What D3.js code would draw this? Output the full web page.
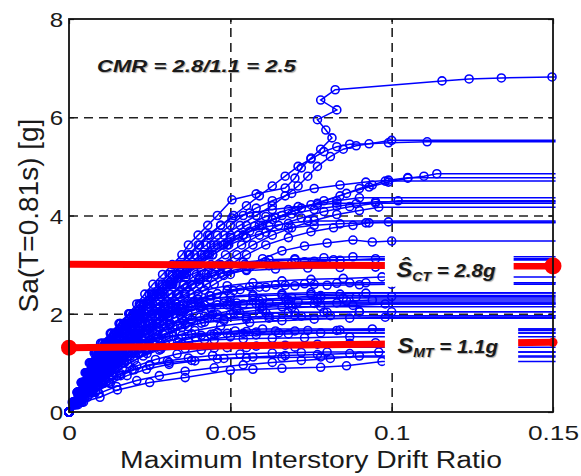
<!DOCTYPE html>
<html>
<head>
<meta charset="utf-8">
<script src="https://cdn.jsdelivr.net/npm/d3@7"></script>
<style>
  body { margin: 0; background: #fff; }
  svg { display: block; font-family: "Liberation Sans", Arial, sans-serif; }
  .note { text-shadow: 1px 1px 1px #aaa; }
</style>
</head>
<body>
<div id="ida-chart"></div>
<script>
// axis ticks
var xTicks = [0, 0.05, 0.1, 0.15];
var yTicks = [0, 2, 4, 6, 8];
var xTitle = "Maximum Interstory Drift Ratio";
var yTitle = "Sa(T=0.81s) [g]";
var cmrText = "CMR = 2.8/1.1 = 2.5";

// red reference lines (drift, Sa)
var sctLine = [[0, 3.01], [0.15, 2.97]];
var smtLine = [[0, 1.31], [0.15, 1.42]];

// IDA curves, [drift, Sa] per record; the last point is the collapse point
var idaCurves = [
  [[0,0],[0.001,0.2],[0.0025,0.4],[0.0038,0.6],[0.005,0.8],[0.0063,1.0],[0.0078,1.2],[0.0098,1.4],[0.0128,1.6],[0.0155,1.8],[0.0185,2.0],[0.021,2.2],[0.0235,2.4],[0.026,2.6],[0.029,2.8],[0.032,3.0],[0.035,3.2],[0.037,3.4],[0.04,3.6],[0.043,3.8],[0.046,4.0],[0.0505,4.32],[0.058,4.44],[0.067,4.56],[0.07,4.76],[0.072,4.97],[0.075,5.17],[0.078,5.35],[0.0815,5.58],[0.0796,5.74],[0.077,5.95],[0.083,6.15],[0.078,6.35],[0.0825,6.56],[0.1156,6.74],[0.124,6.78],[0.134,6.8],[0.1497,6.82]],
  [[0,0],[0.0014,0.2],[0.0028,0.4],[0.0042,0.6],[0.0057,0.8],[0.0072,1.0],[0.009,1.2],[0.0112,1.4],[0.014,1.6],[0.0168,1.8],[0.0198,2.0],[0.023,2.2],[0.026,2.4],[0.029,2.6],[0.032,2.8],[0.0345,3.0],[0.037,3.2],[0.04,3.4],[0.043,3.6],[0.047,3.8],[0.051,4.0],[0.055,4.2],[0.059,4.4],[0.063,4.6],[0.067,4.8],[0.071,5.0],[0.075,5.15],[0.079,5.3],[0.083,5.4],[0.087,5.45],[0.093,5.46],[0.099,5.48],[0.111,5.5]],
  [[0,0],[0.0016,0.2],[0.003,0.4],[0.0046,0.6],[0.0062,0.8],[0.008,1.0],[0.0102,1.2],[0.0128,1.4],[0.0155,1.6],[0.0185,1.8],[0.0215,2.0],[0.0245,2.2],[0.0275,2.4],[0.031,2.6],[0.034,2.8],[0.037,3.0],[0.041,3.2],[0.044,3.4],[0.048,3.6],[0.053,3.8],[0.058,4.0],[0.063,4.2],[0.067,4.4],[0.071,4.6],[0.074,4.8],[0.077,5.0],[0.081,5.2],[0.085,5.35],[0.089,5.42],[0.1,5.53]],
  [[0,0],[0.0015,0.2],[0.003,0.4],[0.0045,0.6],[0.006,0.8],[0.0078,1.0],[0.0098,1.2],[0.012,1.4],[0.0148,1.6],[0.0178,1.8],[0.021,2.0],[0.0245,2.2],[0.028,2.4],[0.0315,2.6],[0.035,2.8],[0.039,3.0],[0.043,3.2],[0.048,3.4],[0.054,3.6],[0.06,3.8],[0.066,4.0],[0.072,4.15],[0.079,4.3],[0.086,4.45],[0.093,4.58],[0.099,4.68],[0.105,4.76],[0.11,4.8],[0.114,4.85]],
  [[0,0],[0.0013,0.2],[0.0027,0.4],[0.004,0.6],[0.0054,0.8],[0.0068,1.0],[0.0085,1.2],[0.0105,1.4],[0.0132,1.6],[0.016,1.8],[0.019,2.0],[0.0222,2.2],[0.0255,2.4],[0.0288,2.6],[0.032,2.8],[0.0355,3.0],[0.039,3.2],[0.0425,3.4],[0.046,3.6],[0.05,3.8],[0.054,4.0],[0.058,4.15],[0.063,4.3],[0.069,4.45],[0.076,4.55],[0.084,4.62],[0.092,4.68],[0.099,4.72],[0.105,4.77]],
  [[0,0],[0.0017,0.2],[0.0033,0.4],[0.005,0.6],[0.0068,0.8],[0.0088,1.0],[0.011,1.2],[0.0135,1.4],[0.0163,1.6],[0.0193,1.8],[0.0225,2.0],[0.026,2.2],[0.0295,2.4],[0.033,2.6],[0.0365,2.8],[0.0405,3.0],[0.0445,3.2],[0.049,3.4],[0.054,3.6],[0.059,3.8],[0.064,3.95],[0.07,4.1],[0.077,4.25],[0.084,4.4],[0.09,4.55],[0.094,4.62],[0.098,4.7]],
  [[0,0],[0.0014,0.2],[0.0029,0.4],[0.0044,0.6],[0.006,0.8],[0.0076,1.0],[0.0095,1.2],[0.0118,1.4],[0.0145,1.6],[0.0175,1.8],[0.0205,2.0],[0.024,2.2],[0.0275,2.4],[0.031,2.6],[0.0345,2.8],[0.038,3.0],[0.042,3.2],[0.046,3.4],[0.05,3.6],[0.055,3.8],[0.061,3.98],[0.068,4.12],[0.075,4.22],[0.083,4.3],[0.09,4.36]],
  [[0,0],[0.0018,0.2],[0.0036,0.4],[0.0055,0.6],[0.0075,0.8],[0.0097,1.0],[0.012,1.2],[0.0146,1.4],[0.0175,1.6],[0.0207,1.8],[0.024,2.0],[0.0278,2.2],[0.0315,2.4],[0.0355,2.6],[0.0395,2.8],[0.044,3.0],[0.0485,3.2],[0.0535,3.4],[0.059,3.6],[0.065,3.8],[0.072,3.95],[0.079,4.08],[0.087,4.18],[0.095,4.25],[0.102,4.3]],
  [[0,0],[0.0012,0.2],[0.0025,0.4],[0.0038,0.6],[0.0052,0.8],[0.0066,1.0],[0.0082,1.2],[0.0102,1.4],[0.013,1.6],[0.0158,1.8],[0.0188,2.0],[0.0218,2.2],[0.0248,2.4],[0.028,2.6],[0.031,2.8],[0.0342,3.0],[0.0375,3.2],[0.0405,3.4],[0.0435,3.6],[0.047,3.8],[0.0505,3.95],[0.056,4.05],[0.063,4.12],[0.071,4.18],[0.077,4.22],[0.083,4.25]],
  [[0,0],[0.0019,0.2],[0.0039,0.4],[0.006,0.6],[0.0082,0.8],[0.0105,1.0],[0.013,1.2],[0.0158,1.4],[0.019,1.6],[0.0224,1.8],[0.026,2.0],[0.0298,2.2],[0.034,2.4],[0.0382,2.6],[0.0425,2.8],[0.047,3.0],[0.052,3.2],[0.057,3.4],[0.063,3.6],[0.069,3.75],[0.076,3.9],[0.083,4.02],[0.09,4.1],[0.096,4.17]],
  [[0,0],[0.0013,0.2],[0.0027,0.4],[0.0041,0.6],[0.0056,0.8],[0.0072,1.0],[0.009,1.2],[0.0112,1.4],[0.014,1.6],[0.017,1.8],[0.02,2.0],[0.0232,2.2],[0.0265,2.4],[0.03,2.6],[0.0335,2.8],[0.037,3.0],[0.041,3.2],[0.045,3.4],[0.05,3.55],[0.056,3.68],[0.062,3.78],[0.068,3.84],[0.074,3.89]],
  [[0,0],[0.002,0.2],[0.0041,0.4],[0.0063,0.6],[0.0086,0.8],[0.011,1.0],[0.0137,1.2],[0.0167,1.4],[0.02,1.6],[0.0236,1.8],[0.0275,2.0],[0.0316,2.2],[0.036,2.4],[0.0405,2.6],[0.0452,2.8],[0.05,3.0],[0.055,3.2],[0.061,3.4],[0.068,3.55],[0.075,3.67],[0.082,3.75],[0.088,3.8],[0.093,3.85]],
  [[0,0],[0.0022,0.2],[0.0045,0.4],[0.0069,0.6],[0.0094,0.8],[0.012,1.0],[0.015,1.2],[0.0183,1.4],[0.022,1.6],[0.026,1.8],[0.0305,2.0],[0.0352,2.2],[0.04,2.4],[0.045,2.6],[0.05,2.8],[0.055,2.97],[0.06,3.12],[0.066,3.28],[0.073,3.38],[0.08,3.44],[0.088,3.5],[0.094,3.46],[0.1,3.48]],
  [[0,0],[0.0016,0.2],[0.0032,0.4],[0.0049,0.6],[0.0067,0.8],[0.0086,1.0],[0.0107,1.2],[0.0131,1.4],[0.0158,1.6],[0.0187,1.8],[0.0218,2.0],[0.025,2.2],[0.0285,2.4],[0.0322,2.6],[0.0362,2.75],[0.041,2.88],[0.047,2.98],[0.054,3.05],[0.062,3.1],[0.07,3.12],[0.079,3.14],[0.088,3.16]],
  [[0,0],[0.0021,0.2],[0.0043,0.4],[0.0066,0.6],[0.009,0.8],[0.0116,1.0],[0.0145,1.2],[0.0177,1.4],[0.0212,1.6],[0.025,1.8],[0.029,2.0],[0.0333,2.2],[0.0378,2.4],[0.0426,2.6],[0.048,2.78],[0.055,2.9],[0.062,2.98],[0.069,3.03],[0.076,3.07],[0.082,3.1]],
  [[0,0],[0.0019,0.2],[0.0038,0.4],[0.0058,0.6],[0.008,0.8],[0.0103,1.0],[0.0128,1.2],[0.0156,1.4],[0.0187,1.6],[0.022,1.8],[0.0256,2.0],[0.0295,2.2],[0.0336,2.4],[0.038,2.58],[0.043,2.74],[0.049,2.86],[0.056,2.95],[0.064,3.01],[0.073,3.06],[0.084,3.09],[0.095,3.12]],
  [[0,0],[0.0014,0.15],[0.0028,0.3],[0.0042,0.45],[0.0057,0.6],[0.0072,0.75],[0.0088,0.9],[0.0105,1.05],[0.0124,1.2],[0.0145,1.35],[0.0168,1.5],[0.0192,1.65],[0.0218,1.8],[0.0245,1.95],[0.0273,2.1],[0.0302,2.25],[0.0333,2.4],[0.0366,2.55],[0.0402,2.69],[0.0442,2.82],[0.049,2.93],[0.0545,3.01],[0.061,3.06],[0.07,3.1]],
  [[0,0],[0.0017,0.2],[0.0035,0.4],[0.0054,0.6],[0.0074,0.8],[0.0095,1.0],[0.0118,1.2],[0.0144,1.4],[0.0172,1.6],[0.0203,1.8],[0.0237,2.0],[0.0273,2.2],[0.0312,2.4],[0.0355,2.58],[0.0405,2.72],[0.047,2.82],[0.055,2.88],[0.064,2.91],[0.074,2.93],[0.084,2.94],[0.095,2.95],[0.105,2.96]],
  [[0,0],[0.0018,0.2],[0.0037,0.4],[0.0057,0.6],[0.0078,0.8],[0.01,1.0],[0.0125,1.2],[0.0153,1.4],[0.0185,1.6],[0.022,1.8],[0.026,2.0],[0.0305,2.2],[0.036,2.36],[0.042,2.48],[0.049,2.57],[0.057,2.63],[0.066,2.67],[0.075,2.7],[0.085,2.72],[0.097,2.75]],
  [[0,0],[0.002,0.2],[0.0041,0.4],[0.0063,0.6],[0.0087,0.8],[0.0113,1.0],[0.0142,1.2],[0.0174,1.4],[0.021,1.6],[0.025,1.8],[0.0295,2.0],[0.0345,2.16],[0.04,2.3],[0.046,2.41],[0.053,2.49],[0.061,2.54],[0.07,2.57],[0.08,2.58],[0.09,2.59],[0.1,2.6]],
  [[0,0],[0.0017,0.15],[0.0034,0.3],[0.0052,0.45],[0.0071,0.6],[0.009,0.75],[0.011,0.9],[0.0132,1.05],[0.0156,1.2],[0.0182,1.35],[0.021,1.5],[0.024,1.65],[0.0272,1.8],[0.0307,1.95],[0.0345,2.1],[0.0387,2.24],[0.0435,2.37],[0.049,2.47],[0.056,2.55],[0.064,2.59],[0.073,2.61],[0.083,2.62],[0.092,2.63]],
  [[0,0],[0.0024,0.2],[0.0049,0.4],[0.0075,0.6],[0.0103,0.8],[0.0133,1.0],[0.0165,1.2],[0.02,1.4],[0.0238,1.6],[0.028,1.8],[0.0326,2.0],[0.0378,2.2],[0.044,2.36],[0.051,2.47],[0.059,2.54],[0.067,2.58],[0.076,2.6],[0.087,2.63]],
  [[0,0],[0.0015,0.2],[0.003,0.4],[0.0046,0.6],[0.0063,0.8],[0.0082,1.0],[0.0103,1.2],[0.0128,1.4],[0.0157,1.6],[0.019,1.8],[0.0228,1.98],[0.0275,2.12],[0.033,2.22],[0.04,2.29],[0.048,2.33],[0.057,2.36],[0.066,2.38],[0.075,2.39],[0.084,2.4],[0.092,2.42]],
  [[0,0],[0.0015,0.15],[0.003,0.3],[0.0046,0.45],[0.0062,0.6],[0.0079,0.75],[0.0097,0.9],[0.0117,1.05],[0.0139,1.2],[0.0163,1.35],[0.019,1.5],[0.022,1.65],[0.0253,1.8],[0.029,1.95],[0.0332,2.08],[0.038,2.2],[0.0437,2.29],[0.05,2.35],[0.057,2.39],[0.066,2.41],[0.075,2.43]],
  [[0,0],[0.0026,0.2],[0.0053,0.4],[0.0082,0.6],[0.0113,0.8],[0.0146,1.0],[0.0182,1.2],[0.0222,1.4],[0.0266,1.6],[0.0315,1.8],[0.037,1.98],[0.044,2.12],[0.052,2.22],[0.06,2.29],[0.069,2.33],[0.078,2.37]],
  [[0,0],[0.002,0.2],[0.004,0.4],[0.0062,0.6],[0.0085,0.8],[0.011,1.0],[0.0138,1.2],[0.017,1.4],[0.0206,1.6],[0.0247,1.8],[0.0295,1.98],[0.035,2.1],[0.042,2.18],[0.05,2.23],[0.059,2.26],[0.068,2.28],[0.077,2.3],[0.085,2.32]],
  [[0,0],[0.0024,0.2],[0.0049,0.4],[0.0075,0.6],[0.0103,0.8],[0.0133,1.0],[0.0166,1.2],[0.0203,1.4],[0.0245,1.6],[0.0292,1.8],[0.0345,1.98],[0.0405,2.12],[0.048,2.22],[0.057,2.28],[0.067,2.31],[0.078,2.33],[0.089,2.34],[0.1,2.35]],
  [[0,0],[0.0027,0.2],[0.0055,0.4],[0.0084,0.6],[0.0115,0.8],[0.0149,1.0],[0.0186,1.2],[0.0227,1.4],[0.0272,1.58],[0.0322,1.74],[0.038,1.88],[0.0445,1.99],[0.052,2.08],[0.06,2.15],[0.068,2.2],[0.077,2.24],[0.086,2.26],[0.094,2.28]],
  [[0,0],[0.0017,0.2],[0.0034,0.4],[0.0052,0.6],[0.0072,0.8],[0.0093,1.0],[0.0117,1.2],[0.0144,1.4],[0.0175,1.6],[0.0212,1.8],[0.0255,1.96],[0.031,2.07],[0.038,2.14],[0.046,2.18],[0.054,2.2],[0.062,2.22],[0.071,2.24]],
  [[0,0],[0.0013,0.2],[0.0027,0.4],[0.0042,0.6],[0.0058,0.8],[0.0076,1.0],[0.0096,1.2],[0.0119,1.4],[0.0146,1.6],[0.0178,1.8],[0.0216,1.96],[0.0265,2.06],[0.033,2.12],[0.041,2.16],[0.05,2.18],[0.059,2.19],[0.068,2.2],[0.076,2.21],[0.083,2.22]],
  [[0,0],[0.0016,0.15],[0.0032,0.3],[0.0049,0.45],[0.0067,0.6],[0.0086,0.75],[0.0106,0.9],[0.0128,1.05],[0.0152,1.2],[0.0178,1.35],[0.0207,1.5],[0.0238,1.65],[0.0272,1.8],[0.031,1.94],[0.0355,2.05],[0.041,2.13],[0.049,2.18],[0.058,2.2]],
  [[0,0],[0.003,0.2],[0.006,0.4],[0.0092,0.6],[0.0126,0.8],[0.0163,1.0],[0.0203,1.2],[0.0248,1.4],[0.03,1.6],[0.036,1.78],[0.043,1.92],[0.051,2.02],[0.06,2.08],[0.069,2.12],[0.078,2.15],[0.088,2.17],[0.098,2.2]],
  [[0,0],[0.0014,0.2],[0.0029,0.4],[0.0045,0.6],[0.0062,0.8],[0.008,1.0],[0.01,1.2],[0.0124,1.4],[0.0153,1.6],[0.0188,1.8],[0.023,1.95],[0.029,2.04],[0.036,2.08],[0.044,2.1],[0.052,2.12],[0.059,2.13],[0.066,2.14]],
  [[0,0],[0.0023,0.2],[0.0047,0.4],[0.0072,0.6],[0.0099,0.8],[0.0128,1.0],[0.016,1.2],[0.0196,1.4],[0.0238,1.6],[0.0288,1.76],[0.035,1.88],[0.042,1.95],[0.05,1.99],[0.059,2.01],[0.068,2.02],[0.079,2.03],[0.09,2.04]],
  [[0,0],[0.0019,0.15],[0.0038,0.3],[0.0058,0.45],[0.0079,0.6],[0.0101,0.75],[0.0125,0.9],[0.015,1.05],[0.0177,1.2],[0.0206,1.35],[0.0238,1.5],[0.0273,1.64],[0.0312,1.76],[0.0356,1.86],[0.0405,1.93],[0.046,1.98],[0.053,2.01],[0.061,2.02],[0.07,2.03],[0.08,2.03],[0.09,2.04],[0.1,2.04]],
  [[0,0],[0.0019,0.2],[0.0039,0.4],[0.006,0.6],[0.0083,0.8],[0.0108,1.0],[0.0136,1.2],[0.0168,1.4],[0.0205,1.56],[0.025,1.7],[0.031,1.8],[0.038,1.87],[0.046,1.91],[0.055,1.93],[0.064,1.94],[0.072,1.95],[0.081,1.96]],
  [[0,0],[0.0021,0.15],[0.0043,0.3],[0.0066,0.45],[0.009,0.6],[0.0115,0.75],[0.0142,0.9],[0.0171,1.05],[0.0203,1.2],[0.0238,1.35],[0.0277,1.5],[0.032,1.63],[0.0368,1.74],[0.042,1.83],[0.048,1.89],[0.055,1.93],[0.062,1.95],[0.07,1.96]],
  [[0,0],[0.0031,0.2],[0.0063,0.4],[0.0097,0.6],[0.0133,0.8],[0.0172,1.0],[0.0216,1.2],[0.0266,1.38],[0.0323,1.54],[0.039,1.66],[0.047,1.75],[0.056,1.82],[0.066,1.86],[0.076,1.89],[0.087,1.91],[0.098,1.93]],
  [[0,0],[0.0028,0.2],[0.0057,0.4],[0.0087,0.6],[0.012,0.8],[0.0155,1.0],[0.0195,1.2],[0.024,1.4],[0.0292,1.58],[0.035,1.72],[0.041,1.81],[0.048,1.86],[0.055,1.89],[0.062,1.91]],
  [[0,0],[0.0022,0.2],[0.0045,0.4],[0.0069,0.6],[0.0096,0.8],[0.0126,1.0],[0.016,1.18],[0.02,1.34],[0.025,1.46],[0.031,1.54],[0.038,1.59],[0.046,1.62],[0.055,1.64],[0.064,1.65],[0.074,1.66],[0.084,1.67],[0.094,1.69]],
  [[0,0],[0.0024,0.15],[0.0049,0.3],[0.0075,0.45],[0.0103,0.6],[0.0133,0.75],[0.0166,0.9],[0.0202,1.05],[0.0242,1.19],[0.0287,1.32],[0.0337,1.43],[0.0392,1.52],[0.045,1.59],[0.0515,1.65],[0.06,1.69]],
  [[0,0],[0.0026,0.2],[0.0053,0.4],[0.0082,0.6],[0.0114,0.8],[0.015,0.98],[0.019,1.14],[0.0235,1.28],[0.0285,1.4],[0.034,1.49],[0.041,1.56],[0.049,1.6],[0.058,1.63],[0.07,1.65],[0.083,1.66]],
  [[0,0],[0.0032,0.2],[0.0066,0.4],[0.0102,0.6],[0.014,0.8],[0.0182,0.98],[0.023,1.14],[0.0285,1.28],[0.035,1.39],[0.042,1.47],[0.05,1.53],[0.058,1.57],[0.068,1.59],[0.078,1.61]],
  [[0,0],[0.0018,0.2],[0.0037,0.4],[0.0057,0.6],[0.0079,0.8],[0.0104,1.0],[0.0133,1.18],[0.0168,1.32],[0.021,1.43],[0.027,1.51],[0.035,1.56],[0.044,1.58],[0.054,1.6],[0.065,1.61]],
  [[0,0],[0.0025,0.2],[0.0052,0.4],[0.008,0.6],[0.0112,0.8],[0.0148,0.98],[0.019,1.14],[0.024,1.27],[0.03,1.37],[0.037,1.43],[0.045,1.47],[0.054,1.49],[0.063,1.5],[0.073,1.51],[0.087,1.53]],
  [[0,0],[0.0036,0.2],[0.0074,0.4],[0.0115,0.6],[0.016,0.78],[0.021,0.94],[0.0268,1.07],[0.0335,1.18],[0.041,1.26],[0.049,1.31],[0.058,1.34],[0.067,1.36],[0.077,1.38],[0.087,1.4],[0.095,1.41]],
  [[0,0],[0.0021,0.2],[0.0043,0.4],[0.0067,0.6],[0.0094,0.8],[0.0126,0.98],[0.0166,1.12],[0.0215,1.21],[0.028,1.26],[0.036,1.29],[0.045,1.3],[0.055,1.31],[0.07,1.32]],
  [[0,0],[0.004,0.2],[0.0082,0.4],[0.0128,0.58],[0.018,0.74],[0.024,0.87],[0.031,0.97],[0.039,1.04],[0.048,1.09],[0.057,1.12],[0.067,1.15],[0.077,1.17],[0.087,1.19],[0.096,1.22]],
  [[0,0],[0.0028,0.15],[0.0057,0.3],[0.0088,0.45],[0.0122,0.6],[0.016,0.74],[0.0202,0.86],[0.025,0.96],[0.0305,1.04],[0.037,1.1],[0.0445,1.15],[0.053,1.18],[0.063,1.2],[0.072,1.21],[0.08,1.22]],
  [[0,0],[0.0045,0.2],[0.0093,0.38],[0.0147,0.52],[0.021,0.64],[0.028,0.74],[0.036,0.83],[0.045,0.9],[0.054,0.96],[0.063,1.01],[0.072,1.05],[0.081,1.09],[0.09,1.14]],
  [[0,0],[0.0033,0.2],[0.0068,0.4],[0.0106,0.58],[0.0148,0.74],[0.0196,0.86],[0.025,0.95],[0.031,1.01],[0.038,1.05],[0.046,1.08],[0.055,1.1],[0.066,1.11],[0.078,1.12]],
  [[0,0],[0.004,0.2],[0.0096,0.3],[0.015,0.45],[0.025,0.6],[0.036,0.7],[0.05,0.85],[0.057,0.87],[0.066,0.89],[0.078,0.91],[0.086,0.94],[0.097,1.03]],
  [[0,0],[0.0016,0.2],[0.0032,0.4],[0.0049,0.6],[0.0066,0.8],[0.0084,1.0],[0.0104,1.2],[0.0127,1.4],[0.0154,1.6],[0.0184,1.8],[0.0216,2.0],[0.025,2.2],[0.0285,2.4],[0.032,2.6],[0.0357,2.8],[0.0395,3.0],[0.0435,3.2],[0.0478,3.4],[0.0525,3.6],[0.0575,3.78],[0.063,3.92],[0.069,4.03],[0.076,4.12],[0.083,4.19],[0.089,4.24],[0.095,4.28]],
  [[0,0],[0.0015,0.2],[0.0031,0.4],[0.0048,0.6],[0.0065,0.8],[0.0083,1.0],[0.0103,1.2],[0.0126,1.4],[0.0152,1.6],[0.018,1.8],[0.0212,2.0],[0.0245,2.2],[0.028,2.4],[0.0318,2.6],[0.0358,2.8],[0.04,3.0],[0.0445,3.2],[0.0495,3.4],[0.055,3.55],[0.061,3.66],[0.068,3.74],[0.076,3.8],[0.084,3.83],[0.092,3.85],[0.099,3.87]]
];

var margin = { top: 19, right: 28, bottom: 64, left: 69 },
    width = 581 - margin.left - margin.right,
    height = 476 - margin.top - margin.bottom;

var x = d3.scaleLinear().domain([0, 0.15]).range([0, width]),
    y = d3.scaleLinear().domain([0, 8]).range([height, 0]);

var svg = d3.select("#ida-chart").append("svg")
    .attr("width", width + margin.left + margin.right)
    .attr("height", height + margin.top + margin.bottom)
    .append("g")
    .attr("transform", "translate(" + margin.left + "," + margin.top + ")");

// dashed grid
svg.append("g")
    .attr("transform", "translate(0," + height + ")")
    .call(d3.axisBottom(x).tickValues(xTicks.slice(1, -1)).tickSize(-height).tickFormat(""))
    .call(function (g) { g.select(".domain").remove(); })
    .selectAll("line")
    .style("stroke", "#222").style("stroke-width", 1.6).style("stroke-dasharray", "9,6");

svg.append("g")
    .call(d3.axisLeft(y).tickValues(yTicks.slice(1, -1)).tickSize(-width).tickFormat(""))
    .call(function (g) { g.select(".domain").remove(); })
    .selectAll("line")
    .style("stroke", "#222").style("stroke-width", 1.6).style("stroke-dasharray", "9,6");

// IDA curves, flat line to the right edge after collapse
var line = d3.line()
    .x(function (d) { return x(d[0]); })
    .y(function (d) { return y(d[1]); });

var curves = svg.append("g");
idaCurves.forEach(function (pts) {
    var last = pts[pts.length - 1];
    curves.append("path")
        .datum(pts.concat([[x.domain()[1] + 0.0008, last[1]]]))
        .attr("d", line)
        .style("fill", "none")
        .style("stroke", "#0000ff")
        .style("stroke-width", 1.5);
});
idaCurves.forEach(function (pts) {
    curves.selectAll(null)
        .data(pts)
        .enter().append("circle")
        .attr("cx", function (d) { return x(d[0]); })
        .attr("cy", function (d) { return y(d[1]); })
        .attr("r", 4)
        .style("fill", "none")
        .style("stroke", "#0000ff")
        .style("stroke-width", 1.6);
});

// red reference lines
[sctLine, smtLine].forEach(function (pts) {
    svg.append("path")
        .datum(pts)
        .attr("d", line)
        .style("fill", "none")
        .style("stroke", "#ff0000")
        .style("stroke-width", 7);
});
svg.append("circle").attr("cx", x(smtLine[0][0])).attr("cy", y(smtLine[0][1])).attr("r", 8).style("fill", "#ff0000");
svg.append("circle").attr("cx", x(sctLine[1][0])).attr("cy", y(sctLine[1][1])).attr("r", 8.5).style("fill", "#ff0000");
svg.append("circle").attr("cx", x(smtLine[1][0])).attr("cy", y(smtLine[1][1])).attr("r", 4.5).style("fill", "#ff0000");

// white boxes behind the labels
function labelBox(x0, x1, y0, y1) {
    svg.append("rect")
        .attr("x", x(x0)).attr("y", y(y1))
        .attr("width", x(x1) - x(x0)).attr("height", y(y0) - y(y1))
        .style("fill", "#fff");
}
labelBox(0.0979, 0.1378, 2.55, 3.36);
labelBox(0.0979, 0.1392, 0.86, 1.83);

function subLabel(px, py, main, sub, rest) {
    var t = svg.append("text")
        .attr("class", "note")
        .attr("transform", "translate(" + px + "," + py + ") scale(1.08,1)")
        .style("font-weight", "bold").style("font-style", "italic")
        .style("fill", "#1a1a1a");
    t.append("tspan").style("font-size", "22px").text(main);
    t.append("tspan").style("font-size", "13px").attr("dy", 4).text(sub);
    t.append("tspan").style("font-size", "19px").attr("dy", -4).text(rest);
}
subLabel(x(0.1015), y(2.74), "\u015C", "CT", " = 2.8g");
subLabel(x(0.1018), y(1.2), "S", "MT", " = 1.1g");

svg.append("text")
    .attr("class", "note")
    .attr("transform", "translate(" + 28 + "," + 53 + ") scale(1.3,1)")
    .style("font-weight", "bold").style("font-style", "italic")
    .style("font-size", "17px").style("fill", "#1a1a1a")
    .text(cmrText);

// axes with inward ticks on all four sides
var xAxis = svg.append("g")
    .attr("transform", "translate(0," + height + ")")
    .call(d3.axisBottom(x).tickValues(xTicks).tickSizeInner(-5).tickSizeOuter(0)
        .tickFormat(function (d) { return d; }));
xAxis.selectAll("text")
    .attr("y", 28).attr("dy", 0)
    .attr("transform", "scale(1.25,1)")
    .style("font-size", "21px").style("fill", "#1a1a1a");

var yAxis = svg.append("g")
    .call(d3.axisLeft(y).tickValues(yTicks).tickSizeInner(-5).tickSizeOuter(0));
yAxis.selectAll("text")
    .attr("x", -5).attr("dy", "0.36em")
    .attr("transform", "scale(1.15,1)")
    .style("font-size", "21px").style("fill", "#1a1a1a");

svg.append("g").call(d3.axisTop(x).tickValues(xTicks).tickSizeInner(-5).tickSizeOuter(0).tickFormat(""));
svg.append("g").attr("transform", "translate(" + width + ",0)")
    .call(d3.axisRight(y).tickValues(yTicks).tickSizeInner(-5).tickSizeOuter(0).tickFormat(""));

svg.selectAll(".tick line").filter(function () { return !this.style.strokeDasharray; })
    .style("stroke", "#111").style("stroke-width", 1.2);

// frame
svg.append("rect")
    .attr("width", width).attr("height", height)
    .style("fill", "none").style("stroke", "#111").style("stroke-width", 1.8);
svg.selectAll(".domain").remove();

// axis titles
svg.append("text")
    .attr("transform", "translate(" + (width / 2) + "," + (height + 56) + ") scale(1.23,1)")
    .style("text-anchor", "middle").style("font-size", "23px").style("fill", "#1a1a1a")
    .text(xTitle);

svg.append("text")
    .attr("transform", "translate(" + (38 - margin.left) + "," + (height / 2) + ") rotate(-90)")
    .style("text-anchor", "middle").style("font-size", "28px").style("fill", "#1a1a1a")
    .text(yTitle);
</script>
</body>
</html>
